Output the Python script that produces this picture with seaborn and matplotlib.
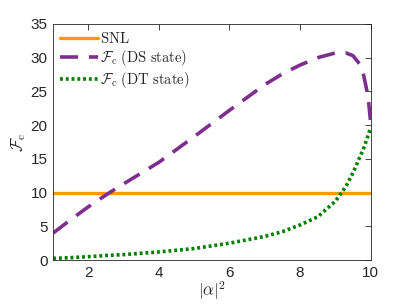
import numpy as np
import pandas as pd
import matplotlib
matplotlib.use("Agg")
import matplotlib.pyplot as plt
import seaborn as sns

# values
alpha_sq = [1, 1.5, 2, 2.6, 3, 4, 5, 6, 7, 7.5, 8, 8.5, 9, 9.3, 9.5, 9.7, 9.8, 9.9, 9.95, 10]
fc_ds = [4.0, 6.0, 7.9, 10.0, 11.3, 14.5, 18.3, 22.2, 26.0, 27.6, 28.9, 30.0, 30.7, 30.7, 30.3, 29.0, 27.5, 25.0, 23.2, 20.5]
fc_dt = [0.25, 0.35, 0.5, 0.7, 0.8, 1.2, 1.7, 2.5, 3.5, 4.2, 5.2, 6.4, 8.7, 10.9, 12.9, 15.3, 16.5, 18.0, 18.8, 19.6]
snl_x = [1, 10]
snl = [10, 10]

sns.set_style("white")
plt.rcParams['font.family'] = ['Liberation Sans', 'DejaVu Sans']
plt.rcParams['mathtext.fontset'] = 'cm'

fig = plt.figure(figsize=(4.09, 3.07), dpi=100)
ax = fig.add_axes([0.13, 0.153, 0.776, 0.769])

sns.lineplot(x=snl_x, y=snl, ax=ax, color='#FF9900', lw=2.4, label=r'$\mathrm{SNL}$')
sns.lineplot(x=alpha_sq, y=fc_ds, ax=ax, color='#7E2F8E', lw=2.6, linestyle=(0, (5, 3)),
             label=r'$\mathcal{F}_{\mathrm{c}}\ \mathrm{(DS\ state)}$')
sns.lineplot(x=alpha_sq, y=fc_dt, ax=ax, color='#008000', lw=2.6, linestyle=(0, (0.8, 0.8)),
             label=r'$\mathcal{F}_{\mathrm{c}}\ \mathrm{(DT\ state)}$')

ax.set_xlim(1, 10)
ax.set_ylim(0, 35)
ax.set_xticks([2, 4, 6, 8, 10])
ax.set_yticks(range(0, 36, 5))
ax.tick_params(direction='in', top=True, right=True, length=4, width=0.6,
               colors='#262626', labelsize=11, pad=4)
for s in ax.spines.values():
    s.set_color('#262626')
    s.set_linewidth(0.6)
ax.set_xlabel(r'$|\alpha|^2$', fontsize=12, labelpad=0)
ax.set_ylabel(r'$\mathcal{F}_{\mathrm{c}}$', fontsize=12, labelpad=2)

ax.legend(loc='upper left', frameon=False, fontsize=10.5, handlelength=2.6,
          handletextpad=0.1, labelspacing=0.12, borderaxespad=0.15, borderpad=0.35)

fig.savefig("out.png", dpi=100)
